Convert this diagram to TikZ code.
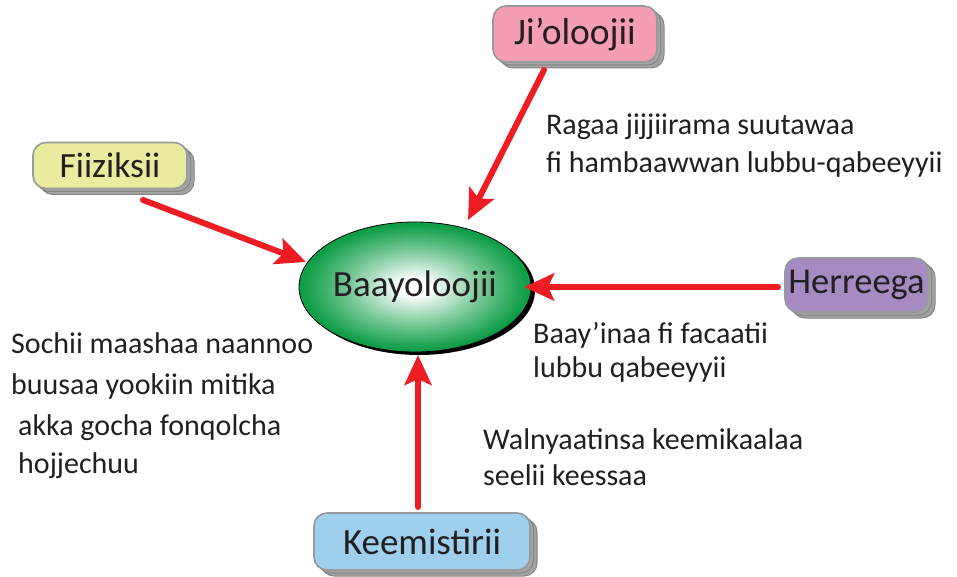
\documentclass[tikz,border=0pt]{standalone}
\usepackage{fontspec}
\setmainfont{Carlito}
\usetikzlibrary{arrows.meta,shapes.geometric,shadows}
\definecolor{arrred}{HTML}{EE1D24}
\definecolor{txt}{HTML}{231F20}
\definecolor{bgreen}{HTML}{0F9E48}
\definecolor{pinkf}{HTML}{F49DB3}
\definecolor{yellowf}{HTML}{E9EB9E}
\definecolor{purplef}{HTML}{A68AC2}
\definecolor{bluef}{HTML}{9ED0EE}
\definecolor{boxedge}{HTML}{999999}
\definecolor{shadf}{HTML}{A3A3A3}
\definecolor{shade}{HTML}{858585}
\pgfdeclareradialshading{bioshade}{\pgfpoint{0bp}{0bp}}{color(0bp)=(white); color(3bp)=(white); color(15bp)=(bgreen!60!white); color(24bp)=(bgreen); color(50bp)=(bgreen)}
\tikzset{
  topic/.style={rectangle, rounded corners=13pt, draw=boxedge, line width=1.6pt, text=txt, inner sep=0pt,
    general shadow={fill=shadf, draw=shade, line width=1pt, shadow xshift=7pt, shadow yshift=-6pt},
    general shadow={fill=shadf, draw=shade, line width=1pt, shadow xshift=3.5pt, shadow yshift=-3pt}},
  arr/.style={draw=arrred, line width=6pt, line cap=round, -{Stealth[length=30pt,width=27pt,inset=6pt]}},
  note/.style={anchor=base west, inner sep=0pt, text=txt, font=\fontsize{30}{36}\selectfont}
}
\begin{document}
\begin{tikzpicture}[x=1pt,y=-1pt]
\useasboundingbox (0,0) rectangle (957,577);
% central ellipse
\node[ellipse, draw=black, line width=0.8pt, shading=bioshade, minimum width=218pt, minimum height=130pt, inner sep=0pt,
  general shadow={fill=black, shadow xshift=4pt, shadow yshift=-3pt}, text=txt,
  font=\fontsize{37}{42}\selectfont] (bio) at (415,287) {Baayoloojii};
% topic boxes
\node[topic, fill=pinkf, minimum width=164pt, minimum height=56pt, font=\fontsize{37.5}{42}\selectfont] (ji) at (575,34) {Ji’oloojii};
\node[topic, fill=yellowf, minimum width=154pt, minimum height=46pt, font=\fontsize{35.5}{40}\selectfont] (fiz) at (110,165.5) {Fiiziksii};
\node[topic, fill=purplef, minimum width=143pt, minimum height=54pt, font=\fontsize{36.5}{42}\selectfont] (her) at (856.5,285) {Herreega};
\node[topic, fill=bluef, minimum width=216pt, minimum height=57pt, font=\fontsize{37}{42}\selectfont] (kee) at (422,541.5) {Keemistirii};
% arrow ends
\coordinate (jiS) at (544,70);   \coordinate (jiT) at (468,220);
\coordinate (fizS) at (143,200); \coordinate (fizT) at (306,262);
\coordinate (herS) at (778,287); \coordinate (herT) at (524,287);
\coordinate (keeS) at (418,507); \coordinate (keeT) at (418,355);
\draw[arr] (jiS) -- (jiT);
\draw[arr] (fizS) -- (fizT);
\draw[arr] (herS) -- (herT);
\draw[arr] (keeS) -- (keeT);
% notes
\node[note] (n1a) at (546,135) {Ragaa jijjiirama suutawaa};
\node[note] (n1b) at (546,173) {fi hambaawwan lubbu-qabeeyyii};
\node[note] (n2a) at (533,343) {Baay’inaa fi facaatii};
\node[note] (n2b) at (533,377) {lubbu qabeeyyii};
\node[note] (n3a) at (483,449) {Walnyaatinsa keemikaalaa};
\node[note] (n3b) at (483,485) {seelii keessaa};
\node[note] (n4a) at (11,353) {Sochii maashaa naannoo};
\node[note] (n4b) at (11,394) {buusaa yookiin mitika};
\node[note] (n4c) at (18,435) {akka gocha fonqolcha};
\node[note] (n4d) at (18,473) {hojjechuu};
\end{tikzpicture}
\end{document}
